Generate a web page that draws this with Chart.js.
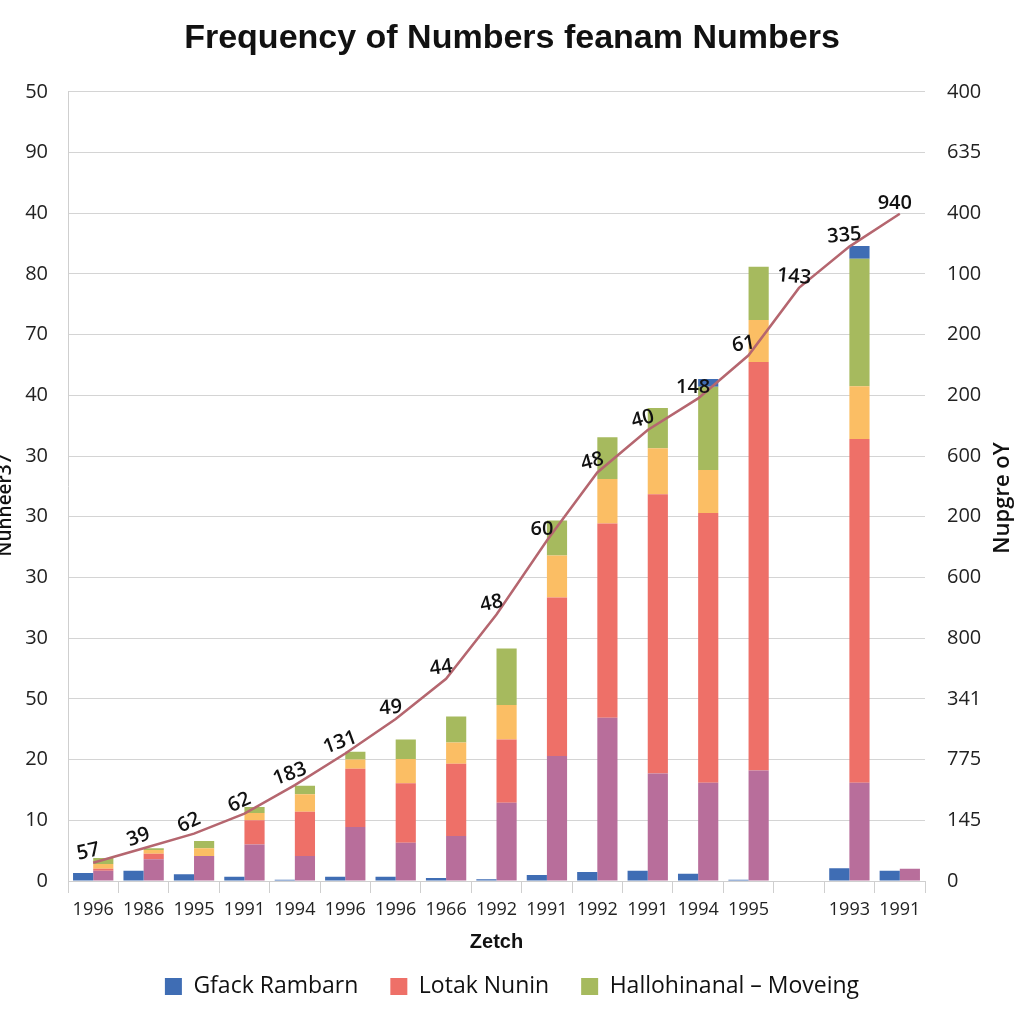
<!DOCTYPE html>
<html>
<head>
<meta charset="utf-8">
<script src="https://cdn.jsdelivr.net/npm/chart.js"></script>
<style>
    html, body { margin: 0; padding: 0; background: #fff; }
    #wrap { width: 1024px; height: 1024px; }
</style>
</head>
<body>
<div id="wrap"><canvas id="chart"></canvas></div>
<script>
// Datos
const categories = ['1996', '1986', '1995', '1991', '1994', '1996', '1996', '1966', '1992', '1991', '1992', '1991', '1994', '1995', '', '1993', '1991'];

const blueValues   = [1.3, 1.7, 1.1, 0.7, 0.2, 0.7, 0.7, 0.5, 0.3, 1.0, 1.5, 1.7, 1.2, 0.2, null, 2.1, 1.7];
const purpleValues = [1.7, 3.6, 4.1, 6.0, 4.1, 8.9, 6.3, 7.4, 12.9, 20.6, 26.9, 17.7, 16.2, 18.2, null, 16.2, 2.0];
const redValues    = [0.3, 0.9, 0, 4.0, 7.3, 9.6, 9.8, 11.9, 10.4, 26.1, 32.0, 46.0, 44.4, 67.3, null, 56.6, 0];
const orangeValues = [0.8, 0.6, 1.3, 1.2, 2.9, 1.5, 4.0, 3.5, 5.7, 6.9, 7.3, 7.6, 7.1, 6.9, null, 8.7, 0];
const greenValues  = [1.0, 0.3, 1.2, 1.0, 1.4, 1.3, 3.2, 4.3, 9.3, 5.8, 6.9, 6.6, 13.7, 8.8, null, 21.0, 0];
const blueTopValues = [0, 0, 0, 0, 0, 0, 0, 0, 0, 0, 0, 0, 1.3, 0, null, 2.1, 0];

const lineValues = [3.0, 5.4, 7.8, 11.1, 15.8, 21.0, 26.7, 33.3, 43.9, 56.1, 67.3, 74.3, 79.5, 86.6, 97.7, 104.5, 109.9];
const lineLabels = ['57', '39', '62', '62', '183', '131', '49', '44', '48', '60', '48', '40', '148', '61', '143', '335', '940'];

// Etiquetas de los ejes (de arriba a abajo)
const leftTicks  = ['50', '90', '40', '80', '70', '40', '30', '30', '30', '30', '50', '20', '10', '0'];
const rightTicks = ['400', '635', '400', '100', '200', '200', '600', '200', '600', '800', '341', '775', '145', '0'];

const FONT = "'Open Sans', 'Noto Sans', sans-serif";

// Etiquetas del línea y títulos de ejes verticales
const labelAngles = [-12, -20, -25, -25, -20, -20, -5, -8, -12, 0, -15, -15, 0, -10, 5, -5, 0];
const extrasPlugin = {
    id: 'extras',
    afterDatasetsDraw(chart) {
        const ctx = chart.ctx;
        const meta = chart.getDatasetMeta(6);
        ctx.save();
        ctx.fillStyle = '#111';
        ctx.font = '600 20px ' + FONT;
        ctx.textAlign = 'center';
        ctx.textBaseline = 'middle';
        meta.data.forEach((pt, i) => {
            ctx.save();
            ctx.translate(pt.x - 5, pt.y - 11);
            ctx.rotate(labelAngles[i] * Math.PI / 180);
            ctx.fillText(lineLabels[i], 0, 0);
            ctx.restore();
        });
        ctx.restore();

        ctx.save();
        ctx.fillStyle = '#111';
        ctx.textAlign = 'center';
        ctx.textBaseline = 'middle';
        ctx.font = '600 19px ' + FONT;
        ctx.translate(6, 505);
        ctx.rotate(-Math.PI / 2);
        ctx.fillText('Nunneer37', 0, 0);
        ctx.restore();

        ctx.save();
        ctx.fillStyle = '#111';
        ctx.textAlign = 'center';
        ctx.textBaseline = 'middle';
        ctx.font = '600 22px ' + FONT;
        ctx.translate(1003, 498);
        ctx.rotate(-Math.PI / 2);
        ctx.fillText('Nupgre oY', 0, 0);
        ctx.restore();
    }
};

function barSet(label, data, color) {
    return {
        type: 'bar',
        label: label,
        data: data,
        backgroundColor: color,
        borderWidth: 0,
        stack: 'b',
        order: 1
    };
}

const ctx = document.getElementById('chart').getContext('2d');
const chart = new Chart(ctx, {
    data: {
        labels: categories,
        datasets: [
            {
                type: 'bar',
                label: 'Gfack Rambarn',
                data: blueValues,
                backgroundColor: '#3F6DB4',
                borderWidth: 0,
                stack: 'a',
                order: 1
            },
            barSet('Purple', purpleValues, '#B86E9B'),
            barSet('Lotak Nunin', redValues, '#EE7068'),
            barSet('Orange', orangeValues, '#FBBE64'),
            barSet('Hallohinanal – Moveing', greenValues, '#A6BA5E'),
            barSet('Blue top', blueTopValues, '#3F6DB4'),
            {
                type: 'line',
                label: 'Line',
                data: lineValues,
                borderColor: '#B5666F',
                borderWidth: 2.5,
                pointRadius: 0,
                tension: 0,
                fill: false,
                order: 0
            }
        ]
    },
    options: {
        responsive: true,
        maintainAspectRatio: false,
        animation: false,
        datasets: {
            bar: { categoryPercentage: 0.8, barPercentage: 1.0 }
        },
        layout: { padding: { top: 0, left: 0, right: 0, bottom: 16 } },
        scales: {
            x: {
                stacked: true,
                grid: {
                    offset: true,
                    drawOnChartArea: false,
                    drawTicks: true,
                    tickLength: 12,
                    color: '#cfcfcf'
                },
                border: { color: '#cfcfcf' },
                ticks: {
                    color: '#222',
                    font: { family: FONT, size: 18 },
                    padding: 6,
                    maxRotation: 0,
                    autoSkip: false
                },
                title: {
                    display: true,
                    text: 'Zetch',
                    color: '#111',
                    font: { family: "'Liberation Sans', Arial, sans-serif", size: 20, weight: 'bold' },
                    padding: { top: 8, bottom: -11 }
                },
                afterFit: scale => { scale.height = 62; }
            },
            y: {
                stacked: true,
                min: 0,
                max: 130,
                ticks: {
                    stepSize: 10,
                    color: '#222',
                    font: { family: FONT, size: 20 },
                    padding: 20,
                    callback: (v, i) => leftTicks[leftTicks.length - 1 - i]
                },
                grid: { color: '#d4d4d4', drawTicks: false },
                border: { color: '#cfcfcf' },
                afterFit: scale => { scale.width = 68; }
            },
            y2: {
                position: 'right',
                min: 0,
                max: 130,
                ticks: {
                    stepSize: 10,
                    color: '#222',
                    font: { family: FONT, size: 20 },
                    padding: 22,
                    callback: (v, i) => rightTicks[rightTicks.length - 1 - i]
                },
                grid: { display: false, drawTicks: false },
                border: { display: false },
                afterFit: scale => { scale.width = 99; }
            }
        },
        plugins: {
            title: {
                display: true,
                text: 'Frequency of Numbers feanam Numbers',
                color: '#111',
                font: { family: "'Liberation Sans', Arial, sans-serif", size: 34, weight: 'bold' },
                padding: { top: 18, bottom: 33 }
            },
            legend: {
                position: 'bottom',
                labels: {
                    color: '#111',
                    font: { family: FONT, size: 23 },
                    boxWidth: 17,
                    boxHeight: 17,
                    padding: 32,
                    filter: item => [0, 2, 4].includes(item.datasetIndex)
                }
            },
            tooltip: { enabled: false }
        }
    },
    plugins: [extrasPlugin]
});
</script>
</body>
</html>
